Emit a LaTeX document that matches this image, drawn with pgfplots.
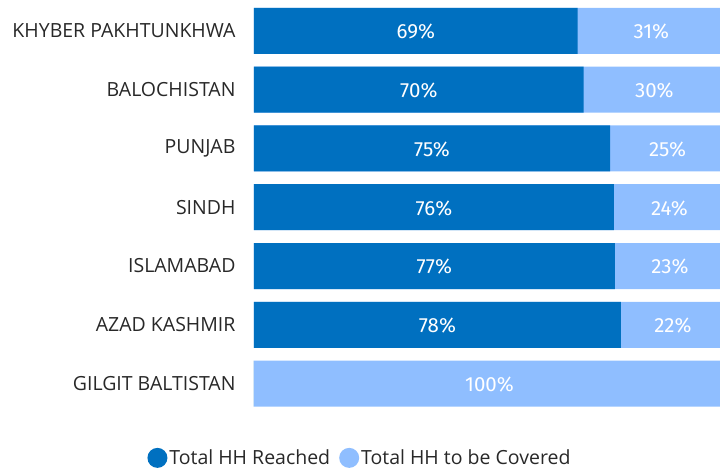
\documentclass[border=0pt]{standalone}
\usepackage{pgfplots}
\pgfplotsset{compat=1.18}
\usepackage{pgfplotstable}
\usepackage{fontspec}
\setmainfont{Open Sans}
\newfontfamily\numfont{Fira Sans}
\definecolor{darkblue}{RGB}{0,112,192}
\definecolor{lightblue}{RGB}{143,190,255}
\definecolor{labelgray}{RGB}{40,40,40}
% a = reached share, b = to be covered share, la/lb = printed labels
\pgfplotstableread{
y a b la lb
1 68.7 31.3 69 31
2 70.0 30.0 70 30
3 75.6 24.4 75 25
4 76.4 23.6 76 24
5 76.6 23.4 77 23
6 77.9 22.1 78 22
7 0 100 0 100
}\datatable
\begin{document}
\begin{tikzpicture}[x=1pt,y=1pt]
\path[use as bounding box] (0,0) rectangle (720,469);
\begin{axis}[
  scale only axis,
  width=471pt, height=411.6pt,
  at={(254pt,56pt)}, anchor=south west,
  xmin=0, xmax=100,
  ymin=0.5, ymax=7.5,
  y dir=reverse,
  xtick=\empty,
  ytick={1,2,3,4,5,6,7},
  yticklabels={KHYBER PAKHTUNKHWA,BALOCHISTAN,PUNJAB,SINDH,ISLAMABAD,AZAD KASHMIR,GILGIT BALTISTAN},
  yticklabel style={font=\fontsize{19.5}{22}\selectfont, text=labelgray, anchor=east, xshift=-15pt},
  major tick length=0pt,
  axis line style={draw=none},
  tick style={draw=none},
  reverse legend,
  legend style={draw=none, fill=none, legend columns=2,
    at={(0.225,-0.109)}, anchor=center,
    font=\fontsize{19.5}{22}\selectfont, text=labelgray,
    /tikz/every even column/.append style={column sep=7pt},
    legend cell align=left},
]
\addplot[xbar, bar width=46pt, fill=lightblue, draw=none, bar shift=0pt,
  legend image code/.code={\fill[lightblue] (0pt,0pt) circle (10pt);}]
  table[x expr=\thisrow{a}+\thisrow{b}, y=y] {\datatable};
\addplot[xbar, bar width=46pt, fill=darkblue, draw=none, bar shift=0pt,
  legend image code/.code={\fill[darkblue] (0pt,0pt) circle (10pt);}]
  table[x=a, y=y] {\datatable};
\addplot[only marks, mark=none, forget plot, point meta=explicit,
  nodes near coords={\pgfmathprintnumber[assume math mode=true]{\pgfplotspointmeta}\%},
  every node near coord/.style={anchor=center, yshift=-1pt, text=white, font=\numfont\fontsize{20.5}{22}\selectfont}]
  table[x expr={\thisrow{a}>0 ? \thisrow{a}/2 : nan}, y=y, meta=la] {\datatable};
\addplot[only marks, mark=none, forget plot, point meta=explicit,
  nodes near coords={\pgfmathprintnumber[assume math mode=true]{\pgfplotspointmeta}\%},
  every node near coord/.style={anchor=center, yshift=-1pt, text=white, font=\numfont\fontsize{20.5}{22}\selectfont}]
  table[x expr=\thisrow{a}+\thisrow{b}/2, y=y, meta=lb] {\datatable};
\legend{Total HH to be Covered, Total HH Reached}
\end{axis}
\end{tikzpicture}
\end{document}
